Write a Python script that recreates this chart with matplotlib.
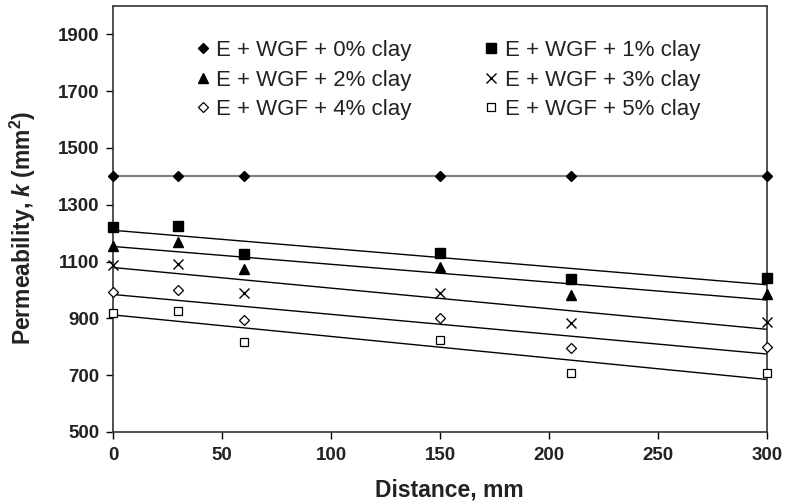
import numpy as np
import matplotlib
matplotlib.use("Agg")
import matplotlib.pyplot as plt
from matplotlib.lines import Line2D

plt.rcParams['font.family'] = ['Liberation Sans', 'DejaVu Sans']
plt.rcParams['mathtext.fontset'] = 'custom'
plt.rcParams['mathtext.rm'] = 'Liberation Sans:bold'
plt.rcParams['mathtext.it'] = 'Liberation Sans:italic:bold'
plt.rcParams['mathtext.bf'] = 'Liberation Sans:bold'

distance = [0, 30, 60, 150, 210, 300]
labels = ["E + WGF + 0% clay", "E + WGF + 1% clay", "E + WGF + 2% clay",
          "E + WGF + 3% clay", "E + WGF + 4% clay", "E + WGF + 5% clay"]
clay0 = [1400, 1400, 1400, 1400, 1400, 1400]
clay1 = [1221, 1224, 1126, 1130, 1038, 1043]
clay2 = [1155, 1170, 1074, 1082, 982, 986]
clay3 = [1089, 1093, 988, 988, 885, 888]
clay4 = [993, 999, 894, 900, 795, 800]
clay5 = [919, 926, 818, 824, 709, 709]
series = [clay0, clay1, clay2, clay3, clay4, clay5]

styles = [
    dict(marker='D', ms=5.5, mfc='black', mec='black'),
    dict(marker='s', ms=6.5, mfc='black', mec='black'),
    dict(marker='^', ms=7.5, mfc='black', mec='black'),
    dict(marker='x', ms=7, mfc='none', mec='black', mew=1.0),
    dict(marker='D', ms=5, mfc='white', mec='black', mew=0.9),
    dict(marker='s', ms=6, mfc='white', mec='black', mew=0.9),
]

fig = plt.figure(figsize=(7.85, 5.04), dpi=100)
ax = fig.add_axes([113/785, 1-432/504, (767-113)/785, (432-6)/504])

x = np.array(distance, dtype=float)
xx = np.array([0.0, 300.0])
handles = []
for i, (vals, st) in enumerate(zip(series, styles)):
    y = np.array(vals, dtype=float)
    if i == 0:
        ax.plot(x, y, color='#808080', lw=1.6, zorder=2)
    else:
        m, b = np.polyfit(x, y, 1)
        ax.plot(xx, m * xx + b, color='black', lw=1.0, zorder=2)
    ax.plot(x, y, linestyle='none', clip_on=False, zorder=3, **st)
    handles.append(Line2D([], [], linestyle='none', **st))

order = [0, 2, 4, 1, 3, 5]
leg = ax.legend([handles[k] for k in order], [labels[k] for k in order],
                ncol=2, frameon=False, loc='upper left',
                bbox_to_anchor=(0.127, 0.920), fontsize=16,
                handlelength=0.6, handletextpad=0.3, columnspacing=3.3,
                labelspacing=0.385, borderpad=0, borderaxespad=0)
for t in leg.get_texts():
    t.set_color('#222222')

ax.set_xlim(0, 300)
ax.set_ylim(500, 2000)
ax.set_xticks([0, 50, 100, 150, 200, 250, 300])
ax.set_yticks([500, 700, 900, 1100, 1300, 1500, 1700, 1900])
ax.tick_params(direction='out', length=5, width=1.0, labelsize=13.5)
ax.tick_params(axis='x', pad=6)
ax.tick_params(axis='y', pad=5)
for lab in ax.get_xticklabels() + ax.get_yticklabels():
    lab.set_fontweight('bold')
    lab.set_color('#222222')
for sp in ax.spines.values():
    sp.set_linewidth(1.2)
    sp.set_color('#333333')

ax.set_xlabel("Distance, mm", fontsize=16.5, fontweight='bold', color='#222222')
ax.set_ylabel(r"Permeability, $k$ (mm$^{2}$)", fontsize=16.5, fontweight='bold', color='#222222')
ax.xaxis.set_label_coords(449/654 - 113/654, 1 - (490 - 6) / 426)
ax.xaxis.label.set_va('center')
ax.yaxis.set_label_coords((38 - 113) / 654, (432 - 228) / 426)

fig.savefig("out.png", dpi=100)
